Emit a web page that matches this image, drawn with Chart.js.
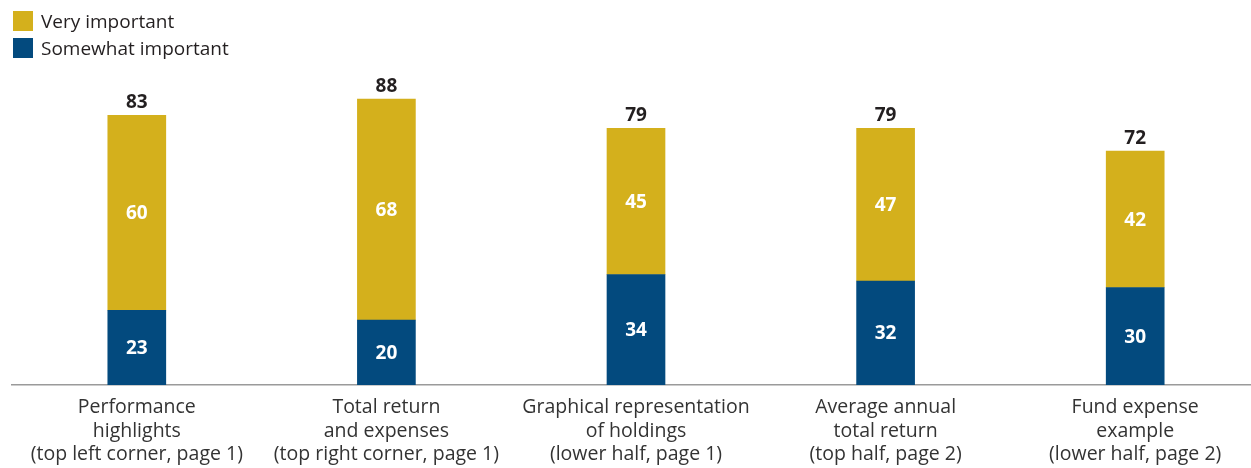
<!DOCTYPE html>
<html>
<head>
<meta charset="utf-8">
<script src="https://cdn.jsdelivr.net/npm/chart.js@4"></script>
<style>
  body { margin: 0; overflow: hidden; background: #fff; font-family: "Open Sans", sans-serif; }
  #wrap { position: absolute; left: 0; top: 0; width: 1262px; height: 468px; }
  #legend { position: absolute; left: 13px; top: 11px; }
  #legend div { display: flex; align-items: center; height: 20px; margin-bottom: 7px; font-size: 19px; color: #231f20; }
  #legend span.box { width: 20px; height: 20px; margin-right: 8px; }
</style>
</head>
<body>
<div id="wrap">
  <canvas id="chart" width="1262" height="468"></canvas>
  <div id="legend"></div>
</div>
<script>
const categories = [
  ["Performance", "highlights", "(top left corner, page 1)"],
  ["Total return", "and expenses", "(top right corner, page 1)"],
  ["Graphical representation", "of holdings", "(lower half, page 1)"],
  ["Average annual", "total return", "(top half, page 2)"],
  ["Fund expense", "example", "(lower half, page 2)"]
];
const somewhatImportant = [23, 20, 34, 32, 30];
const veryImportant = [60, 68, 45, 47, 42];

const gold = "#d4b01c";
const blue = "#034a7e";

// value labels: segment values inside bars, totals above
const valueLabels = {
  id: "valueLabels",
  afterDatasetsDraw(chart) {
    const ctx = chart.ctx;
    ctx.save();
    ctx.textAlign = "center";
    ctx.font = "bold 19px 'Open Sans'";
    chart.data.datasets.forEach((ds, i) => {
      const meta = chart.getDatasetMeta(i);
      meta.data.forEach((bar, j) => {
        ctx.fillStyle = "#ffffff";
        ctx.textBaseline = "middle";
        ctx.fillText(ds.data[j], bar.x, (bar.y + bar.base) / 2 + 1);
      });
    });
    const top = chart.getDatasetMeta(chart.data.datasets.length - 1);
    top.data.forEach((bar, j) => {
      const total = somewhatImportant[j] + veryImportant[j];
      ctx.fillStyle = "#231f20";
      ctx.textBaseline = "alphabetic";
      ctx.fillText(total, bar.x, bar.y - 7);
    });
    ctx.restore();
  }
};

const chart = new Chart(document.getElementById("chart"), {
  type: "bar",
  data: {
    labels: categories,
    datasets: [
      { label: "Somewhat important", data: somewhatImportant, backgroundColor: blue },
      { label: "Very important", data: veryImportant, backgroundColor: gold }
    ]
  },
  options: {
    responsive: false,
    animation: false,
    devicePixelRatio: 1,
    layout: { padding: { top: 60, left: 12, right: 2, bottom: 0 } },
    datasets: { bar: { barThickness: 58 } },
    plugins: { legend: { display: false }, tooltip: { enabled: false } },
    scales: {
      x: {
        stacked: true,
        grid: { display: false, drawTicks: false },
        border: { display: true, color: "#9a9a9a", width: 1.5 },
        ticks: {
          color: "#333333",
          padding: 11,
          font: { family: "'Open Sans'", size: 19.5, lineHeight: 1.2 },
          maxRotation: 0,
          autoSkip: false
        },
        afterFit(scale) { scale.height = 83; }
      },
      y: {
        stacked: true,
        display: false,
        min: 0,
        max: 100
      }
    }
  },
  plugins: [valueLabels]
});

// legend, top item first
const legend = document.getElementById("legend");
chart.data.datasets.slice().reverse().forEach(ds => {
  const row = document.createElement("div");
  const box = document.createElement("span");
  box.className = "box";
  box.style.background = ds.backgroundColor;
  row.appendChild(box);
  row.appendChild(document.createTextNode(ds.label));
  legend.appendChild(row);
});
</script>
</body>
</html>
